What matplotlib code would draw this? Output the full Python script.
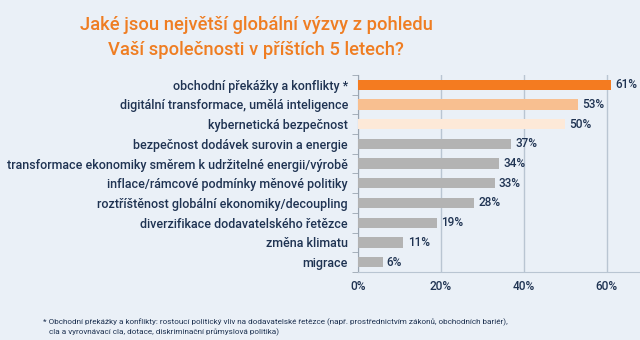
import numpy as np
import matplotlib.pyplot as plt
from matplotlib.ticker import FixedLocator

plt.rcParams['font.family'] = ['Roboto', 'DejaVu Sans']

categories = [
    "obchodní překážky a konflikty *",
    "digitální transformace, umělá inteligence",
    "kybernetická bezpečnost",
    "bezpečnost dodávek surovin a energie",
    "transformace ekonomiky směrem k udržitelné energii/výrobě",
    "inflace/rámcové podmínky měnové politiky",
    "roztříštěnost globální ekonomiky/decoupling",
    "diverzifikace dodavatelského řetězce",
    "změna klimatu",
    "migrace",
]
values = [61, 53, 50, 37, 34, 33, 28, 19, 11, 6]
colors = ["#f47b20", "#f8bf90", "#fde9d8"] + ["#b3b3b3"] * 7
xticks = [0, 20, 40, 60]

title = "Jaké jsou největší globální výzvy z pohledu\nVaší společnosti v příštích 5 letech?"
footnote = ("* Obchodní překážky a konflikty: rostoucí politický vliv na dodavatelské řetězce "
            "(např. prostřednictvím zákonů, obchodních bariér),\n"
            "   cla a vyrovnávací cla, dotace, diskriminační průmyslová politika)")

navy = "#1f3352"
bg = "#eaf0f7"

fig = plt.figure(figsize=(6.4, 3.4), dpi=100, facecolor=bg)
ax = fig.add_axes([0.559, 0.2, 0.441, 0.58])
ax.set_facecolor("none")

y = np.arange(len(categories))
ax.barh(y, values, height=0.52, color=colors, zorder=3)
for yi, v in zip(y, values):
    ax.text(v + 1.0, yi, f"{v}%", va="center", ha="left", fontsize=8.5,
            color=navy, fontweight="medium")

ax.set_ylim(len(categories) - 0.5, -0.5)
ax.set_xlim(0, 68)
ax.set_yticks(y)
ax.set_yticklabels(categories, fontsize=9.0, color=navy, fontweight="medium")
ax.yaxis.set_minor_locator(FixedLocator(np.arange(-0.5, len(categories), 1.0)))
ax.tick_params(axis="y", which="major", length=0, pad=7)
ax.tick_params(axis="y", which="minor", length=4, color="#9aa5b1", direction="out")
ax.set_xticks(xticks)
ax.set_xticklabels([f"{t}%" for t in xticks], fontsize=8.5, color=navy, fontweight="medium")
ax.tick_params(axis="x", length=0, pad=6)

ax.grid(axis="x", color="#b9c5d2", linewidth=1.0, zorder=0)
for s in ["top", "right"]:
    ax.spines[s].set_visible(False)
ax.spines["left"].set_color("#9aa5b1")
ax.spines["bottom"].set_color("#b9c5d2")

fig.text(0.40, 0.89, title, ha="center", va="center", fontsize=13.2,
         color="#ef7d22", fontweight="medium", linespacing=1.45)
fig.text(0.067, 0.038, footnote, ha="left", va="center", fontsize=5.85,
         color=navy, linespacing=1.45)

fig.savefig("out.png", dpi=100, facecolor=bg)
